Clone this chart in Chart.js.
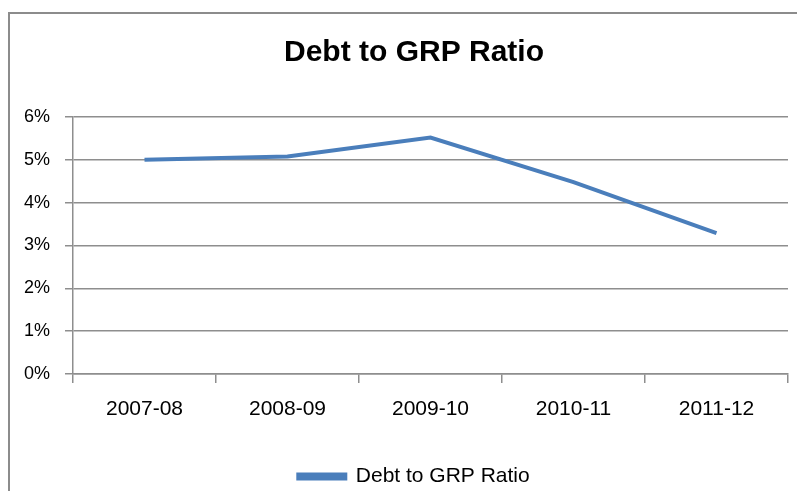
<!DOCTYPE html>
<html>
<head>
<meta charset="utf-8">
<script src="https://cdn.jsdelivr.net/npm/chart.js@4"></script>
<style>
    html, body { margin: 0; padding: 0; background: #fff; overflow: hidden; }
    #wrap { position: relative; width: 797px; height: 491px; overflow: hidden; }
    #frame {
        position: absolute; left: 8px; top: 12px; width: 820px; height: 520px;
        border: 2px solid #8c8c8c; box-sizing: border-box;
    }
    canvas { position: absolute; left: 0; top: 0; }
</style>
</head>
<body>
<div id="wrap">
    <div id="frame"></div>
    <canvas id="graph1" width="808" height="491"></canvas>
</div>
<script>
const years  = ["2007-08", "2008-09", "2009-10", "2010-11", "2011-12"];
const ratio  = [5.0, 5.08, 5.52, 4.48, 3.29];   // percent
const y_ticks = [0, 1, 2, 3, 4, 5, 6];

window.addEventListener("load", function () {
    draw_line();
});

function draw_line() {
    const font = "'Liberation Sans', Arial, sans-serif";
    const grid_color = "#8e8e8e";

    const ctx = document.getElementById("graph1").getContext("2d");
    const myChart = new Chart(ctx, {
        type: "line",
        data: {
            labels: years,
            datasets: [{
                label: "Debt to GRP Ratio",
                data: ratio,
                borderColor: "#4a7ebb",
                backgroundColor: "#4a7ebb",
                borderWidth: 4,
                pointRadius: 0,
                tension: 0,
            }]
        },
        options: {
            responsive: false,
            animation: false,
            layout: {
                padding: { left: 20, right: 0, top: 0, bottom: -6 }
            },
            plugins: {
                title: {
                    display: true,
                    text: "Debt to GRP Ratio",
                    color: "#000",
                    font: { family: font, size: 30, weight: "bold" },
                    padding: { top: 35, bottom: 46 },
                },
                legend: {
                    position: "bottom",
                    labels: {
                        color: "#000",
                        font: { family: font, size: 21 },
                        boxWidth: 47,
                        boxHeight: 4,
                        padding: 0,
                    }
                },
                tooltip: { enabled: false },
            },
            scales: {
                x: {
                    offset: true,
                    grid: {
                        offset: true,
                        drawOnChartArea: false,
                        tickLength: 9,
                        color: grid_color,
                        lineWidth: 1.5,
                    },
                    border: { color: grid_color, width: 1.5 },
                    ticks: {
                        color: "#000",
                        font: { family: font, size: 21 },
                        padding: 14,
                        maxRotation: 0,
                    },
                    afterFit: function (scale) { scale.height = 92; },
                },
                y: {
                    min: 0,
                    max: 6,
                    afterBuildTicks: function (scale) {
                        scale.ticks = y_ticks.map(v => ({ value: v }));
                    },
                    grid: {
                        tickLength: 8,
                        color: grid_color,
                        lineWidth: 1.5,
                    },
                    border: { color: grid_color, width: 1.5 },
                    ticks: {
                        color: "#000",
                        font: { family: font, size: 18 },
                        padding: 15,
                        callback: function (v) { return v + "%"; },
                    },
                    afterFit: function (scale) { scale.width = 53; },
                },
                // empty box on the right so the title centres like the original
                y2: {
                    position: "right",
                    display: true,
                    grid: { display: false },
                    border: { display: false },
                    ticks: { display: false },
                    afterFit: function (scale) { scale.width = 20; },
                }
            }
        }
    });
}
</script>
</body>
</html>
